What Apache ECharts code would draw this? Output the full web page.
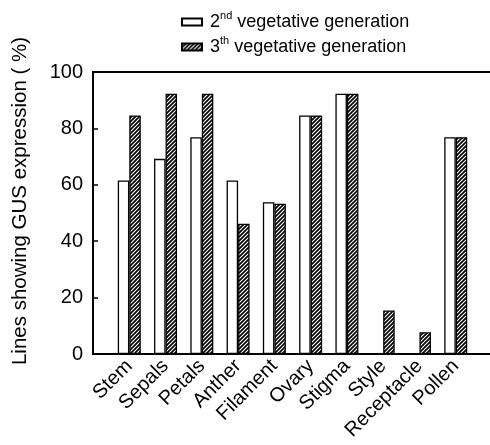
<!DOCTYPE html>
<html>
<head>
<meta charset="utf-8">
<script src="https://cdn.jsdelivr.net/npm/echarts@6/dist/echarts.min.js"></script>
<style>
html, body { margin: 0; padding: 0; background: #fff; }
#main { width: 490px; height: 445px; }
</style>
</head>
<body>
<div id="main"></div>
<script>
// organs on the x axis
var categories = ['Stem', 'Sepals', 'Petals', 'Anther', 'Filament', 'Ovary', 'Stigma', 'Style', 'Receptacle', 'Pollen'];
// % of lines showing GUS expression
var gen2 = [61.5, 69.2, 76.9, 61.5, 53.8, 84.6, 92.3, 0, 0, 76.9];
var gen3 = [84.6, 92.3, 92.3, 46.2, 53.3, 84.6, 92.3, 15.4, 7.7, 76.9];
var yTicks = [0, 20, 40, 60, 80, 100];
var seriesNames = ['2nd vegetative generation', '3th vegetative generation'];

var font = 'Liberation Sans, Arial, sans-serif';

// 斜线填充
function makeHatch() {
    var c = document.createElement('canvas');
    c.width = 4;
    c.height = 4;
    var ctx = c.getContext('2d');
    ctx.fillStyle = '#fff';
    ctx.fillRect(0, 0, 4, 4);
    ctx.strokeStyle = '#000';
    ctx.lineWidth = 1.7;
    ctx.beginPath();
    ctx.moveTo(-1, 1); ctx.lineTo(1, -1);
    ctx.moveTo(0, 4); ctx.lineTo(4, 0);
    ctx.moveTo(3, 5); ctx.lineTo(5, 3);
    ctx.stroke();
    return c;
}

function toPoints(arr) {
    return arr.map(function (v, i) { return [i + 1, v]; });
}

var myChart = echarts.init(document.getElementById('main'));

var option = {
    animation: false,
    textStyle: { fontFamily: font, color: '#000' },
    grid: {
        show: true,
        outerBoundsMode: 'none',
        borderColor: '#000',
        borderWidth: 2,
        left: 93,
        width: 399,
        top: 72,
        bottom: 91
    },
    legend: {
        orient: 'vertical',
        left: 181,
        top: 10,
        padding: 0,
        itemGap: 4,
        itemWidth: 20,
        itemHeight: 7,
        icon: 'rect',
        data: seriesNames,
        formatter: function (name) {
            var m = name.match(/^(\d)(\w\w)(.*)$/);
            return '{b|' + m[1] + '}{s|' + m[2] + '}{b|' + m[3] + '}';
        },
        textStyle: {
            padding: [0, 0, 0, 3],
            rich: {
                b: { fontSize: 18, lineHeight: 24, fontFamily: font, color: '#000' },
                s: { fontSize: 11, lineHeight: 12, verticalAlign: 'top', fontFamily: font, color: '#000' }
            }
        }
    },
    xAxis: {
        type: 'value',
        min: 0,
        max: categories.length + 1,
        interval: 1,
        axisLine: { lineStyle: { color: '#000', width: 2 } },
        axisTick: { show: false },
        splitLine: { show: false },
        axisLabel: {
            rotate: 45,
            fontSize: 20,
            color: '#000',
            margin: 9,
            formatter: function (v) { return categories[v - 1] || ''; }
        }
    },
    yAxis: {
        type: 'value',
        min: yTicks[0],
        max: yTicks[yTicks.length - 1],
        interval: yTicks[1] - yTicks[0],
        name: 'Lines showing GUS expression ( %)',
        nameLocation: 'middle',
        nameGap: 62,
        nameTextStyle: { fontSize: 20.5, color: '#000', padding: [0, 0, 0, 24] },
        axisLine: { show: true, lineStyle: { color: '#000', width: 2 } },
        axisTick: { inside: true, length: 5, lineStyle: { color: '#000', width: 1.5 } },
        splitLine: { show: false },
        axisLabel: { fontSize: 20, color: '#000', margin: 10 }
    },
    series: [{
        name: seriesNames[0],
        type: 'bar',
        barWidth: 11.5,
        barGap: '0%',
        data: toPoints(gen2),
        itemStyle: { color: '#fff', borderColor: '#000', borderWidth: 1.3 }
    }, {
        name: seriesNames[1],
        type: 'bar',
        barWidth: 11.5,
        barGap: '0%',
        data: toPoints(gen3),
        itemStyle: {
            color: { image: makeHatch(), repeat: 'repeat' },
            borderColor: '#000',
            borderWidth: 1.3
        }
    }]
};

myChart.setOption(option);
</script>
</body>
</html>
